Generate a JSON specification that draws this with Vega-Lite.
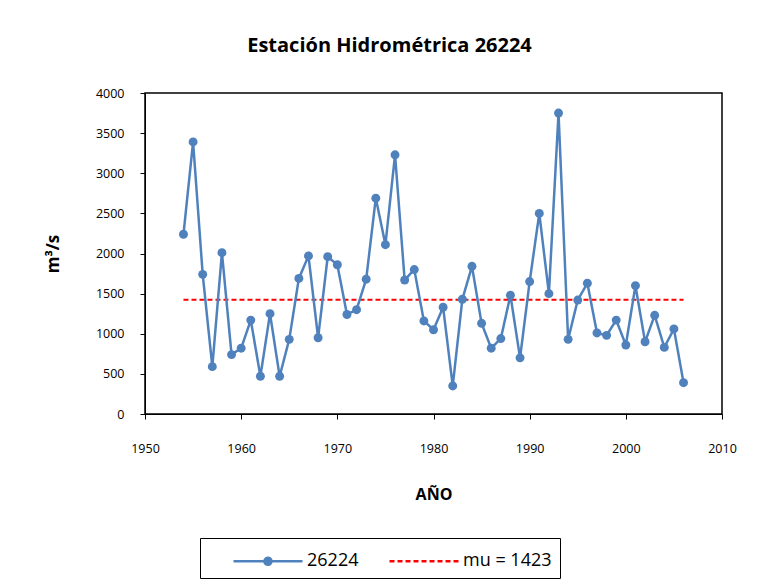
{
  "$schema": "https://vega.github.io/schema/vega-lite/v6.json",
  "autosize": "none",
  "width": 577,
  "height": 321,
  "padding": {"left": 145, "top": 93, "right": 40, "bottom": 174},
  "background": "white",
  "title": {"text": "Estación Hidrométrica 26224", "font": "Open Sans", "fontSize": 20, "fontWeight": "bold", "color": "black", "offset": 31, "anchor": "middle", "dx": -44},
  "config": {
    "font": "Open Sans",
    "view": {"stroke": "black", "strokeWidth": 1.5},
    "axis": {"labelFont": "Open Sans", "labelFontSize": 12.5, "labelColor": "black", "domainColor": "black", "tickColor": "black", "grid": false, "titleFont": "Open Sans", "titleFontSize": 16, "titleFontWeight": "bold", "titleColor": "black", "labelFlush": false}
  },
  "datasets": {
    "serie": [
      {"anio": 1954, "q": 2240}, {"anio": 1955, "q": 3390}, {"anio": 1956, "q": 1740}, {"anio": 1957, "q": 590},
      {"anio": 1958, "q": 2010}, {"anio": 1959, "q": 740}, {"anio": 1960, "q": 820}, {"anio": 1961, "q": 1170},
      {"anio": 1962, "q": 470}, {"anio": 1963, "q": 1250}, {"anio": 1964, "q": 470}, {"anio": 1965, "q": 930},
      {"anio": 1966, "q": 1690}, {"anio": 1967, "q": 1970}, {"anio": 1968, "q": 950}, {"anio": 1969, "q": 1960},
      {"anio": 1970, "q": 1860}, {"anio": 1971, "q": 1240}, {"anio": 1972, "q": 1300}, {"anio": 1973, "q": 1680},
      {"anio": 1974, "q": 2690}, {"anio": 1975, "q": 2110}, {"anio": 1976, "q": 3230}, {"anio": 1977, "q": 1670},
      {"anio": 1978, "q": 1800}, {"anio": 1979, "q": 1160}, {"anio": 1980, "q": 1050}, {"anio": 1981, "q": 1330},
      {"anio": 1982, "q": 350}, {"anio": 1983, "q": 1430}, {"anio": 1984, "q": 1840}, {"anio": 1985, "q": 1130},
      {"anio": 1986, "q": 820}, {"anio": 1987, "q": 940}, {"anio": 1988, "q": 1480}, {"anio": 1989, "q": 700},
      {"anio": 1990, "q": 1650}, {"anio": 1991, "q": 2500}, {"anio": 1992, "q": 1500}, {"anio": 1993, "q": 3750},
      {"anio": 1994, "q": 930}, {"anio": 1995, "q": 1420}, {"anio": 1996, "q": 1630}, {"anio": 1997, "q": 1010},
      {"anio": 1998, "q": 980}, {"anio": 1999, "q": 1170}, {"anio": 2000, "q": 860}, {"anio": 2001, "q": 1600},
      {"anio": 2002, "q": 900}, {"anio": 2003, "q": 1230}, {"anio": 2004, "q": 830}, {"anio": 2005, "q": 1060},
      {"anio": 2006, "q": 390}
    ],
    "media": [{"desde": 1954, "hasta": 2006, "mu": 1423}]
  },
  "layer": [
    {
      "data": {"name": "media"},
      "mark": {"type": "rule", "strokeWidth": 2},
      "encoding": {
        "x": {"field": "desde", "type": "quantitative", "scale": {"domain": [1950, 2010], "zero": false, "nice": false}},
        "x2": {"field": "hasta"},
        "y": {"field": "mu", "type": "quantitative", "scale": {"domain": [0, 4000]}},
        "color": {"datum": "mu = 1423"},
        "strokeDash": {"datum": "mu = 1423"}
      }
    },
    {
      "data": {"name": "serie"},
      "mark": {"type": "line", "strokeWidth": 2.5, "point": {"filled": true, "size": 80, "color": "#4F81BD"}},
      "encoding": {
        "x": {"field": "anio", "type": "quantitative", "scale": {"domain": [1950, 2010], "zero": false, "nice": false},
          "axis": {"title": "AÑO", "values": [1950, 1960, 1970, 1980, 1990, 2000, 2010], "format": "d", "tickSize": 5, "labelPadding": 23, "titlePadding": 32}},
        "y": {"field": "q", "type": "quantitative", "scale": {"domain": [0, 4000]},
          "axis": {"title": "m³/s", "values": [0, 500, 1000, 1500, 2000, 2500, 3000, 3500, 4000], "format": "d", "tickSize": 5, "labelPadding": 16, "titlePadding": 33, "titleFontSize": 17}},
        "color": {"datum": "26224", "type": "nominal",
          "scale": {"domain": ["26224", "mu = 1423"], "range": ["#4F81BD", "#FF0000"]},
          "legend": {"title": null, "orient": "none", "direction": "horizontal", "legendX": 55, "legendY": 445,
            "strokeColor": "black", "padding": 7.5, "symbolSize": 784, "symbolStrokeWidth": 2.5,
            "labelFontSize": 18, "labelFont": "Open Sans", "labelColor": "black", "columnPadding": 5, "labelOffset": 68.5,
            "labelExpr": "datum.label === 'mu = 1423' ? datum.label + '\u00a0\u00a0\u00a0\u00a0\u00a0' : datum.label",
            "encode": {"symbols": {"update": {
              "shape": {"signal": "datum.value === '26224' ? 'M0.75,0H5.68M2.96,0a0.25,0.25 0 1,0 0.5,0a0.25,0.25 0 1,0 -0.5,0' : 'M0.75,0H5.68'"},
              "fill": {"signal": "datum.value === '26224' ? '#4F81BD' : 'transparent'"}
            }}}}},
        "strokeDash": {"datum": "26224", "type": "nominal",
          "scale": {"domain": ["26224", "mu = 1423"], "range": [[1, 0], [5, 3]]}}
      }
    }
  ]
}
